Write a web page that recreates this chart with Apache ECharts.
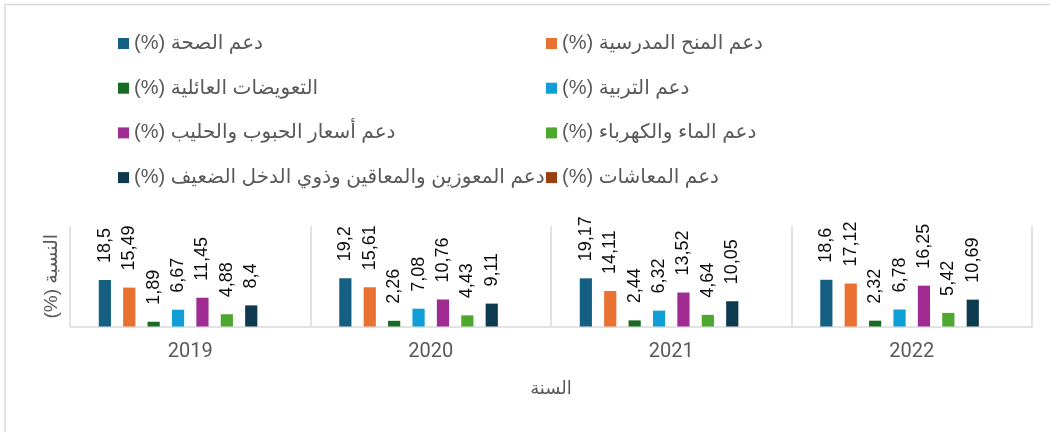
<!DOCTYPE html>
<html>
<head>
<meta charset="utf-8">
<script src="https://cdn.jsdelivr.net/npm/echarts@6/dist/echarts.min.js"></script>
<style>
  html, body { margin: 0; padding: 0; background: #fff; }
  #chart { width: 1050px; height: 432px; }
</style>
</head>
<body>
<div id="chart" dir="rtl"></div>
<script>
// السنوات
const years = ['2019', '2020', '2021', '2022']

// النسب المئوية لكل نوع دعم
const health = [18.5, 19.2, 19.17, 18.6]
const schoolGrants = [15.49, 15.61, 14.11, 17.12]
const familyAllowances = [1.89, 2.26, 2.44, 2.32]
const education = [6.67, 7.08, 6.32, 6.78]
const grainMilk = [11.45, 10.76, 13.52, 16.25]
const waterPower = [4.88, 4.43, 4.64, 5.42]
const needy = [8.4, 9.11, 10.05, 10.69]
const pensions = [null, null, null, null] // لا توجد قيم في الرسم

const names = {
  health: 'دعم الصحة (%)',
  school: 'دعم المنح المدرسية (%)',
  family: 'التعويضات العائلية (%)',
  education: 'دعم التربية (%)',
  grain: 'دعم أسعار الحبوب والحليب (%)',
  water: 'دعم الماء والكهرباء (%)',
  needy: 'دعم المعوزين والمعاقين وذوي الدخل الضعيف (%)',
  pensions: 'دعم المعاشات (%)'
}

const fontAr = '"Liberation Sans", "DejaVu Sans", sans-serif'
const grayText = '#595959'
const lineGray = '#d9d9d9'

const makeSeries = (name, data, color) => ({
  name: name,
  type: 'bar',
  data: data,
  barWidth: 12.2,
  barGap: '100%',
  itemStyle: { color: color },
  label: {
    show: true,
    position: 'top',
    distance: 17,
    rotate: 90,
    align: 'left',
    verticalAlign: 'middle',
    color: '#0d0d0d',
    fontSize: 18,
    fontFamily: 'Arial',
    formatter: (p) => String(p.value).replace('.', ',')
  }
})

const legendBase = {
  orient: 'vertical',
  icon: 'rect',
  itemWidth: 11,
  itemHeight: 11,
  itemGap: 24.7,
  top: 28.5,
  selectedMode: false,
  textStyle: { color: grayText, fontSize: 20, fontFamily: fontAr, lineHeight: 20 }
}

const chart = echarts.init(document.getElementById('chart'))
chart.setOption({
  animation: false,
  backgroundColor: '#fff',
  graphic: [{
    type: 'rect',
    shape: { x: 5, y: 4.5, width: 1200, height: 600 },
    style: { fill: 'none', stroke: lineGray, lineWidth: 1.5 },
    silent: true
  }],
  legend: [
    Object.assign({}, legendBase, {
      left: 113,
      data: [names.health, names.family, names.grain, names.needy]
    }),
    Object.assign({}, legendBase, {
      left: 541,
      data: [names.school, names.education, names.water, names.pensions]
    })
  ],
  grid: { left: 70, right: 18, top: 226, bottom: 105.5 },
  xAxis: {
    type: 'category',
    data: years,
    name: 'السنة',
    nameLocation: 'middle',
    nameGap: 54,
    nameTextStyle: { color: grayText, fontSize: 18, fontFamily: fontAr },
    axisLine: { lineStyle: { color: lineGray, width: 1.5 } },
    axisTick: { show: false },
    splitLine: { show: true, lineStyle: { color: lineGray, width: 1.5 } },
    axisLabel: { color: grayText, fontSize: 20, margin: 15, fontFamily: 'Roboto, sans-serif' }
  },
  yAxis: {
    type: 'value',
    min: 0,
    max: 40,
    name: 'النسبة (%)',
    nameLocation: 'middle',
    nameRotate: 90,
    nameGap: 9,
    nameTextStyle: { color: grayText, fontSize: 19, fontFamily: fontAr },
    axisLine: { show: false },
    axisTick: { show: false },
    axisLabel: { show: false },
    splitLine: { show: false }
  },
  series: [
    makeSeries(names.health, health, '#156082'),
    makeSeries(names.school, schoolGrants, '#e97132'),
    makeSeries(names.family, familyAllowances, '#196b24'),
    makeSeries(names.education, education, '#0f9ed5'),
    makeSeries(names.grain, grainMilk, '#a02b93'),
    makeSeries(names.water, waterPower, '#4ea72e'),
    makeSeries(names.needy, needy, '#0d3a4e'),
    makeSeries(names.pensions, pensions, '#9a4010')
  ]
})
</script>
</body>
</html>
